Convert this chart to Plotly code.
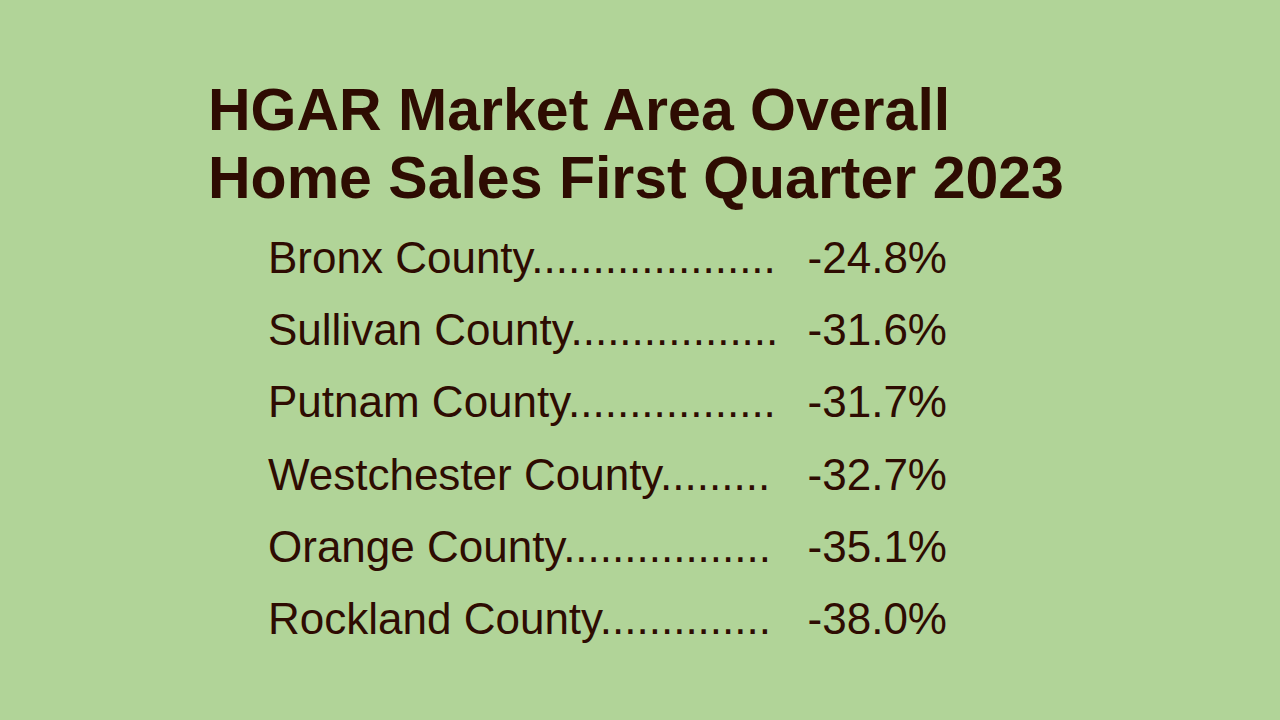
import plotly.graph_objects as go

# Data from the slide
title_lines = ["HGAR Market Area Overall", "Home Sales First Quarter 2023"]
counties = ["Bronx County", "Sullivan County", "Putnam County",
            "Westchester County", "Orange County", "Rockland County"]
pct_change = [-24.8, -31.6, -31.7, -32.7, -35.1, -38.0]
leader_dots = [20, 17, 17, 9, 17, 14]

bg = "#B1D498"
ink = "#2E0C02"
font_name = "Liberation Sans, Arial, sans-serif"

rows = list(range(len(counties)))
labels = [c + "." * n for c, n in zip(counties, leader_dots)]
values = [f"{v:.1f}%" for v in pct_change]

fig = go.Figure()

# county name + leader dots
fig.add_trace(go.Scatter(
    x=[268] * len(rows), y=rows, mode="text",
    text=labels, textposition="middle right",
    textfont=dict(family=font_name, size=44, color=ink),
    hoverinfo="skip", showlegend=False
))

# percentage values, right aligned
fig.add_trace(go.Scatter(
    x=[947] * len(rows), y=rows, mode="text",
    text=values, textposition="middle left",
    textfont=dict(family=font_name, size=44, color=ink),
    hoverinfo="skip", showlegend=False
))

# title lines
for i, line in enumerate(title_lines):
    fig.add_annotation(
        x=206 / 1280, y=1 - (110 + 68 * i) / 720,
        xref="paper", yref="paper", xanchor="left", yanchor="middle",
        text="<b>" + line + "</b>", showarrow=False,
        font=dict(family=font_name, size=59, color=ink)
    )

fig.update_layout(
    width=1280, height=720,
    margin=dict(l=0, r=0, t=0, b=0),
    paper_bgcolor=bg, plot_bgcolor=bg,
    xaxis=dict(range=[0, 1280], visible=False, fixedrange=True),
    yaxis=dict(range=[6.333, -3.612], visible=False, fixedrange=True),
)

# drop the default page margin so the slide fills the window
fig.write_html(
    "out.html",
    config={"displayModeBar": False},
    post_script="document.body.style.margin='0';"
                "document.body.style.background='" + bg + "';"
                "document.body.style.overflow='hidden';"
)
